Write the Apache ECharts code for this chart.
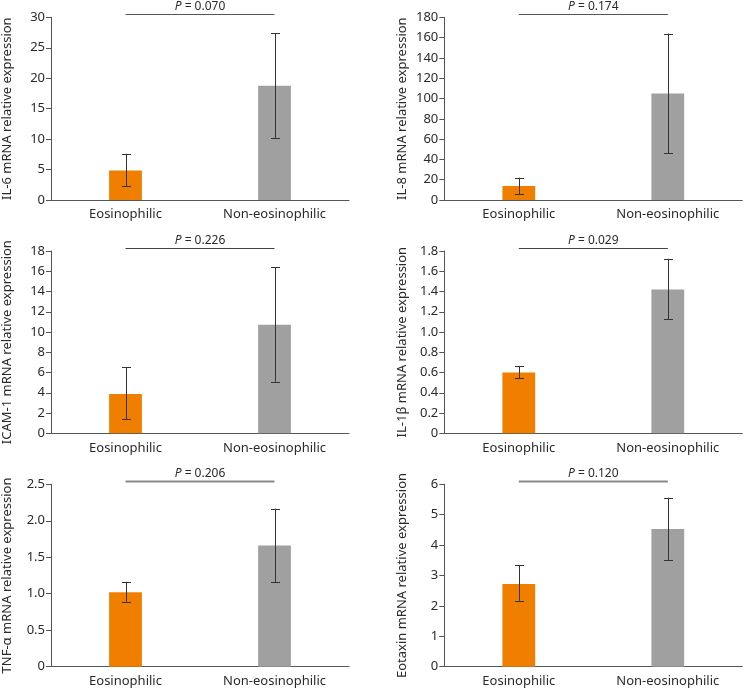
<!DOCTYPE html>
<html>
<head>
<meta charset="utf-8">
<script src="https://cdn.jsdelivr.net/npm/echarts@6/dist/echarts.min.js"></script>
<style>
html,body{margin:0;padding:0;background:#fff;}
#c{width:744px;height:689px;}
</style>
</head>
<body>
<div id="c"></div>
<script>
// ---- data ----
const categories = ['Eosinophilic', 'Non-eosinophilic'];
const yTitles = [
  'IL-6 mRNA relative expression',
  'IL-8 mRNA relative expression',
  'ICAM-1 mRNA relative expression',
  'IL-1\u03B2 mRNA relative expression',
  'TNF-\u03B1 mRNA relative expression',
  'Eotaxin mRNA relative expression'
];
const pValues = ['0.070', '0.174', '0.226', '0.029', '0.206', '0.120'];

const il6Mean = [4.85, 18.75];
const il6Lower = [2.3, 10.1];
const il6Upper = [7.6, 27.4];

const il8Mean = [13.8, 105];
const il8Lower = [5.9, 46];
const il8Upper = [22, 164];

const icamMean = [3.88, 10.72];
const icamLower = [1.38, 5.1];
const icamUpper = [6.5, 16.4];

const il1bMean = [0.6, 1.42];
const il1bLower = [0.545, 1.128];
const il1bUpper = [0.665, 1.724];

const tnfMean = [1.02, 1.66];
const tnfLower = [0.89, 1.157];
const tnfUpper = [1.165, 2.166];

const eotaxinMean = [2.72, 4.53];
const eotaxinLower = [2.17, 3.51];
const eotaxinUpper = [3.33, 5.56];

const yMax = [30, 180, 18, 1.8, 2.5, 6];
const yStep = [5, 20, 2, 0.2, 0.5, 1];
const yDecimals = [0, 0, 0, 1, 1, 0];

const panels = [
  [il6Mean, il6Lower, il6Upper],
  [il8Mean, il8Lower, il8Upper],
  [icamMean, icamLower, icamUpper],
  [il1bMean, il1bLower, il1bUpper],
  [tnfMean, tnfLower, tnfUpper],
  [eotaxinMean, eotaxinLower, eotaxinUpper]
];

// ---- layout ----
const barColors = ['#F07F00', '#A0A0A0'];
const FONT = 'Noto Sans';
const TXT = '#2a2a2a';
const gridBoxes = [
  {left: 51, top: 17.3, width: 298, height: 182.7},
  {left: 444.3, top: 17.3, width: 298, height: 182.7},
  {left: 51, top: 251, width: 298, height: 182.3},
  {left: 444.3, top: 251, width: 298, height: 182.3},
  {left: 51, top: 484.3, width: 298, height: 182.4},
  {left: 444.3, top: 484.3, width: 298, height: 182.4}
];
const nameGaps = [37, 36, 37, 36, 37, 36];
const pLineStyles = [
  {stroke: '#555', lineWidth: 1},
  {stroke: '#555', lineWidth: 1},
  {stroke: '#444', lineWidth: 1},
  {stroke: '#444', lineWidth: 1},
  {stroke: '#8a8a8a', lineWidth: 2},
  {stroke: '#8a8a8a', lineWidth: 2}
];

const grid = [], xAxis = [], yAxis = [], series = [];
panels.forEach((p, i) => {
  grid.push(Object.assign({}, gridBoxes[i]));
  xAxis.push({
    type: 'category', gridIndex: i, data: categories,
    axisLine: {lineStyle: {color: '#555', width: 1}},
    axisTick: {inside: true, length: 5, alignWithLabel: false, lineStyle: {color: '#555'}},
    axisLabel: {color: TXT, fontSize: 13, fontFamily: FONT, margin: 8}
  });
  yAxis.push({
    type: 'value', gridIndex: i, min: 0, max: yMax[i], interval: yStep[i],
    name: yTitles[i], nameLocation: 'middle', nameGap: nameGaps[i],
    nameTextStyle: {color: TXT, fontSize: 13, fontFamily: FONT},
    axisLine: {show: true, lineStyle: {color: '#555', width: 1}},
    axisTick: {show: true, length: 5, lineStyle: {color: '#555'}},
    axisLabel: {
      color: TXT, fontSize: 13, fontFamily: FONT, margin: 6,
      formatter: v => v === 0 ? '0' : v.toFixed(yDecimals[i])
    },
    splitLine: {show: false}
  });
  series.push({
    type: 'bar', xAxisIndex: i, yAxisIndex: i, barWidth: '22%',
    data: p[0].map((v, k) => ({value: v, itemStyle: {color: barColors[k]}})),
    silent: true
  });
  series.push({
    type: 'custom', xAxisIndex: i, yAxisIndex: i, silent: true, z: 5,
    data: p[1].map((lo, k) => [k, lo, p[2][k]]),
    renderItem: (params, api) => {
      const lo = api.coord([api.value(0), api.value(1)]);
      const hi = api.coord([api.value(0), api.value(2)]);
      const x = Math.round(lo[0]) + 0.5, w = 4.5;
      const st = {stroke: '#333', lineWidth: 1};
      return {type: 'group', children: [
        {type: 'line', shape: {x1: x, y1: lo[1], x2: x, y2: hi[1]}, style: st},
        {type: 'line', shape: {x1: x - w, y1: Math.round(lo[1]) + 0.5, x2: x + w, y2: Math.round(lo[1]) + 0.5}, style: st},
        {type: 'line', shape: {x1: x - w, y1: Math.round(hi[1]) + 0.5, x2: x + w, y2: Math.round(hi[1]) + 0.5}, style: st}
      ]};
    }
  });
});

const chart = echarts.init(document.getElementById('c'), null, {renderer: 'canvas'});
chart.setOption({animation: false, backgroundColor: '#fff', grid, xAxis, yAxis, series});

// significance brackets using axis scales
const graphic = [];
panels.forEach((p, i) => {
  const a = chart.convertToPixel({gridIndex: i}, [0, yMax[i]]);
  const b = chart.convertToPixel({gridIndex: i}, [1, yMax[i]]);
  const y = Math.round(a[1] - 3.5) + 0.5;
  graphic.push({type: 'line', silent: true,
    shape: {x1: a[0], y1: y, x2: b[0], y2: y},
    style: pLineStyles[i]});
  graphic.push({type: 'text', silent: true,
    x: (a[0] + b[0]) / 2, y: y - 8,
    style: {
      text: '{i|P} = ' + pValues[i],
      rich: {i: {fontStyle: 'italic', fontSize: 12, fontFamily: FONT, fill: TXT}},
      fontSize: 12, fontFamily: FONT, fill: TXT,
      align: 'center', verticalAlign: 'middle'
    }});
});
chart.setOption({graphic});
</script>
</body>
</html>
